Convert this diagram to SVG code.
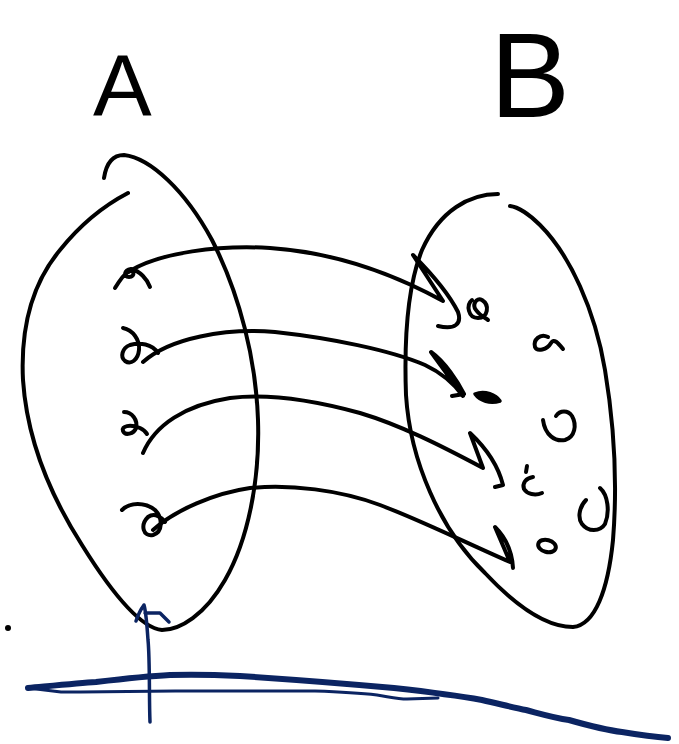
<svg xmlns="http://www.w3.org/2000/svg" width="679" height="744" viewBox="0 0 679 744">
<style>
.ink{fill:none;stroke:#000;stroke-width:4;stroke-linecap:round;stroke-linejoin:round}
.blue{fill:none;stroke:#0b2462;stroke-linecap:round;stroke-linejoin:round}
.lbl{font-family:"Liberation Sans",Arial,sans-serif;fill:#000}
</style>
<rect width="679" height="744" fill="#fff"/>
<g id="labelA"><text class="lbl" x="93" y="116" font-size="88">A</text></g>
<g id="labelB"><text class="lbl" x="490" y="117" font-size="120">B</text></g>
<g id="setA">
<path class="ink" d="M104,178 C106,165 112,155 124,155 C150,158 185,190 212,240 C240,295 256,360 258,420 C260,480 248,540 225,580 C205,615 180,630 162,630 C140,628 110,590 82,545 C50,495 27,440 23,380 C20,320 35,280 60,250 C80,225 105,205 128,193"/>
<path class="ink" d="M115,288 C120,280 124,274 128,272 C134,268 136,277 129,277 C123,277 124,270 131,269 C140,271 147,279 150,287"/>
<path class="ink" d="M123,328 C133,330 140,340 139,350 C138,360 131,365 125,361 C120,357 122,348 130,345 C140,342 152,344 158,353"/>
<path class="ink" d="M124,412 C132,412 138,420 136,428 C134,434 125,436 123,431 C121,426 130,424 140,428 C144,430 146,432 147,434"/>
<path class="ink" d="M122,510 C130,502 145,502 155,510 C163,518 163,532 153,535 C143,537 140,525 148,517 C155,512 162,518 165,522"/>
</g>
<g id="setB">
<path class="ink" d="M498,194 C470,194 440,210 422,250 C408,285 404,340 406,395 C410,460 440,530 485,573 C515,605 545,627 573,627 C595,625 608,590 613,540 C617,490 615,430 605,370 C595,310 570,255 540,225 C530,215 518,207 510,206"/>
<path class="ink" d="M472,300 C466,305 468,318 478,318 C488,318 490,305 482,300 C476,297 472,305 476,310 C480,316 486,318 488,320"/>
<path class="ink" d="M548,337 C540,333 533,340 535,347 C537,352 547,350 551,343 C554,338 558,343 563,349"/>
<path d="M475,394 C485,390 496,395 500,401 C490,404 480,401 475,394 Z" fill="#000" stroke="#000" stroke-width="3.5" stroke-linejoin="round"/>
<path class="ink" d="M543,420 C545,435 555,442 565,440 C575,437 577,425 572,416 C568,410 560,410 556,416"/>
<path class="ink" d="M527,466 L526,472 M533,477 C526,478 522,483 524,489 C527,494 535,496 542,493"/>
<path class="ink" d="M600,488 C608,495 610,512 605,524 C600,532 588,532 582,524 C577,517 580,506 586,500"/>
<ellipse class="ink" cx="547" cy="546" rx="9" ry="6" transform="rotate(15 547 546)"/>
</g>
<g id="connectors">
<path class="ink" d="M128,272 C160,252 220,245 270,248 C330,252 390,272 443,301 L413,255 C430,272 448,292 458,312 C462,324 455,330 438,326"/>
<path class="ink" d="M143,362 C170,338 225,328 275,332 C330,338 390,350 425,365 C442,373 455,385 463,396 L431,352 C445,362 458,382 464,394 L452,396"/>
<path class="ink" d="M143,453 C155,425 185,405 230,398 C270,393 320,402 360,413 C400,425 440,445 483,468 L470,433 C485,447 498,465 503,485 L495,487"/>
<path class="ink" d="M153,530 C175,510 215,493 250,488 C290,484 340,490 380,505 C420,520 460,540 510,562 L495,527 C505,537 512,550 513,568"/>
</g>
<g id="annotation">
<circle cx="8" cy="628" r="3" fill="#000"/>
<path class="blue" stroke-width="3.5" d="M150,722 C149,700 150,660 148,640 C147,625 146,612 144,605 M136,621 C138,615 141,609 144,605 M145,613 L160,613 L169,622"/>
<path class="blue" stroke-width="6" d="M28,688 C60,685 80,683 96,682 C130,678 150,676 170,675 C200,674 220,675 240,676 C300,680 350,684 394,688 C430,692 460,696 482,700 C500,704 515,708 526,710 C545,715 555,718 569,720 C590,726 605,730 622,732 C640,735 655,737 668,738"/>
<path class="blue" stroke-width="3" d="M28,688 L61,692 C100,692 140,691 175,691 C230,691 280,691 315,691 C345,692 360,693 377,695 C390,697 398,699 407,699 L438,698"/>
</g>
</svg>
